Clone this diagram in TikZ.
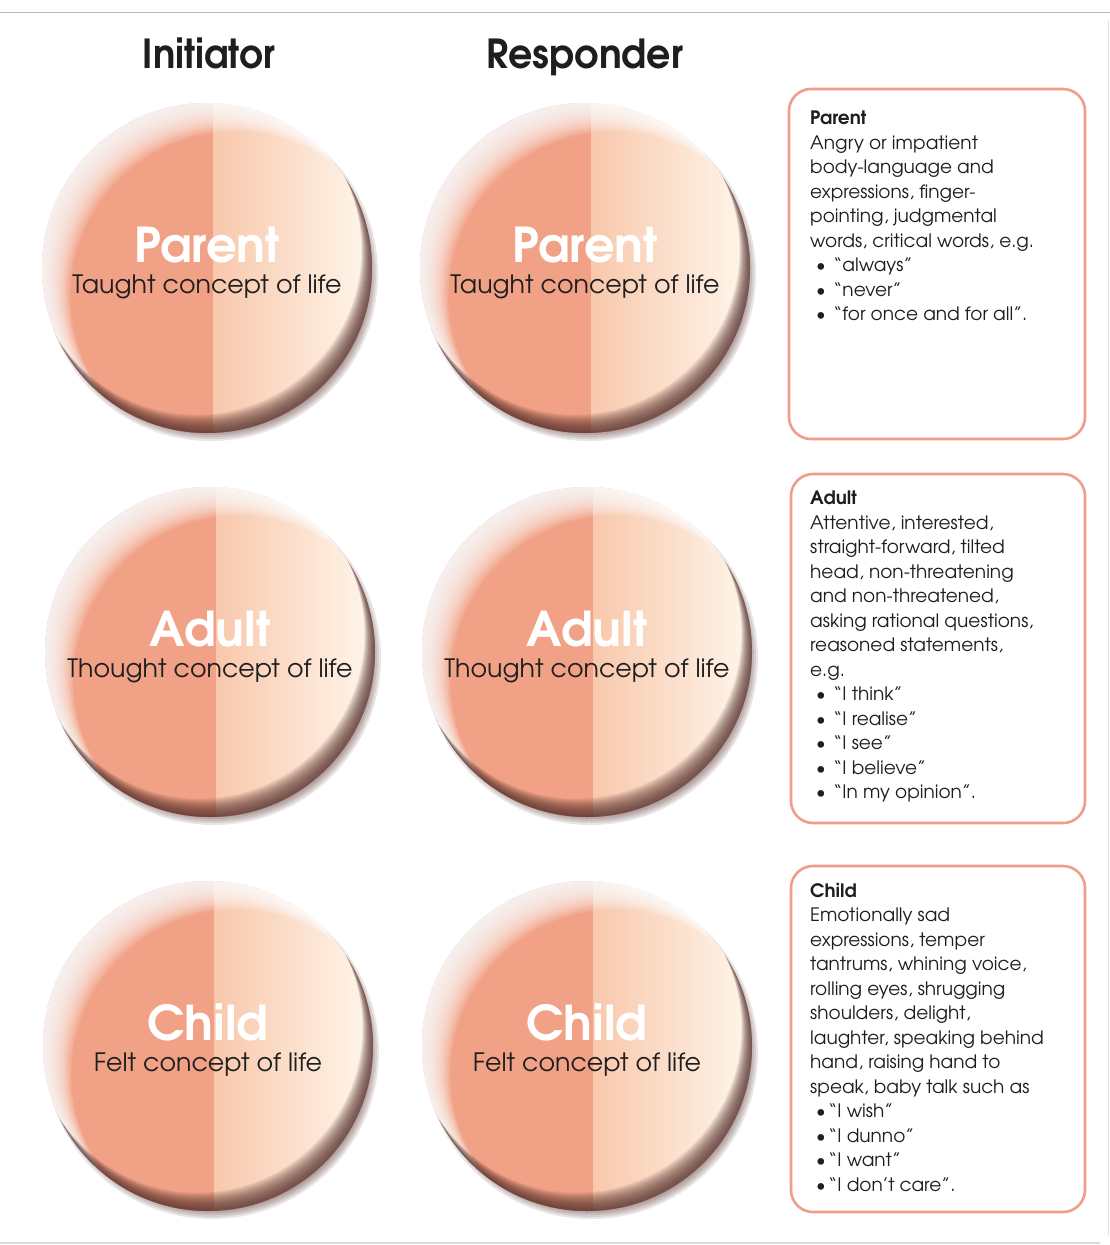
\documentclass[tikz,border=0pt]{standalone}
\usepackage{fontspec}
\setmainfont{TeX Gyre Adventor}
\definecolor{salmon}{RGB}{241,162,134}
\definecolor{salmonmid}{RGB}{248,200,172}
\definecolor{cream}{RGB}{255,248,238}
\definecolor{shadowbrown}{RGB}{84,46,42}
\definecolor{boxline}{RGB}{238,158,138}
\definecolor{inktext}{RGB}{30,30,30}
\tikzset{
  disctitle/.style={anchor=base, inner sep=0pt, text=white, font=\bfseries\fontsize{48}{48}\selectfont},
  discsub/.style={anchor=base, inner sep=0pt, text=inktext, font=\fontsize{25.3}{25.3}\selectfont},
  header/.style={anchor=base, inner sep=0pt, text=inktext, font=\bfseries\fontsize{40}{40}\selectfont},
  descbox/.style={draw=boxline, line width=2.6pt, rounded corners=22pt, fill=white},
  boxtext/.style={anchor=north west, inner sep=0pt, align=left, text=inktext, font=\fontsize{18.5}{24.5}\selectfont},
  glowcres/.style={fill=white, opacity=0.1, even odd rule},
  darkcres/.style={fill=shadowbrown, opacity=0.1, even odd rule},
  shadowring/.style={fill=shadowbrown, opacity=0.12},
}
\newcommand\tadisc[5]{%
  \foreach \k in {0,...,4} {\fill[shadowring] (#2+4,#3+6) circle ({167-2*\k});}
  \begin{scope}
    \clip (#2,#3) circle (165);
    \fill[salmon] (#2-170,#3-170) rectangle (#2+6,#3+170);
    \shade[left color=salmonmid, right color=cream] (#2+6,#3-170) rectangle (#2+170,#3+170);
    \foreach \d in {2,4,...,40} {\fill[glowcres] (#2,#3) circle (166) ({#2+0.71*\d},{#3+0.71*\d}) circle (165);}
    \foreach \d in {1.5,3,...,21} {\fill[darkcres] (#2,#3) circle (166) ({#2-0.5*\d},{#3-0.87*\d}) circle (165);}
  \end{scope}
  \node[disctitle] (#1t) at (#2,#3-6) {#4};
  \node[discsub] (#1s) at (#2,#3+25) {#5};
}
\newcommand\bul{\makebox[23pt][l]{\hspace{6pt}\textbullet}}
\newcommand\bulc{\makebox[18pt][l]{\hspace{6pt}\textbullet}}
\begin{document}
\begin{tikzpicture}[x=1pt,y=-1pt]
\useasboundingbox (0,0) rectangle (1110,1245);
\fill[white] (0,0) rectangle (1110,1245);
% page edges
\draw[gray!55, line width=1pt] (0,12) -- (1110,12);
\draw[gray!25, line width=1pt] (1108,20) -- (1108,1235);
\draw[gray!30, line width=1.5pt] (0,1243) -- (1100,1243);

% headers
\node[header] (hinit) at (209,68) {\scalebox{0.93}[1]{Initiator}};
\node[header] (hresp) at (585,68) {\scalebox{0.95}[1]{Responder}};

% discs
\tadisc{ip}{207}{268}{Parent}{Taught concept of life}
\tadisc{rp}{585}{268}{Parent}{Taught concept of life}
\tadisc{ia}{210}{652}{Adult}{Thought concept of life}
\tadisc{ra}{587}{652}{Adult}{Thought concept of life}
\tadisc{ic}{208}{1046}{Child}{Felt concept of life}
\tadisc{rc}{587}{1046}{Child}{Felt concept of life}

% description boxes
\node[descbox, minimum width=296, minimum height=350] (pbox) at (937,264) {};
\node[descbox, minimum width=294, minimum height=349] (abox) at (938,648.5) {};
\node[descbox, minimum width=294, minimum height=346] (cbox) at (938,1039) {};

\node[boxtext] (ptext) at (810,111) {\rule{0pt}{13pt}\textbf{Parent}\\
Angry or impatient\\
body-language and\\
expressions, finger-\\
pointing, judgmental\\
words, critical words, e.g.\\
\bul “always”\\
\bul “never”\\
\bul “for once and for all”.};

\node[boxtext] (atext) at (810,491) {\rule{0pt}{13pt}\textbf{Adult}\\
Attentive, interested,\\
straight-forward, tilted\\
head, non-threatening\\
and non-threatened,\\
asking rational questions,\\
reasoned statements,\\
e.g.\\
\bul “I think”\\
\bul “I realise”\\
\bul “I see”\\
\bul “I believe”\\
\bul “In my opinion”.};

\node[boxtext] (ctext) at (810,883) {\rule{0pt}{13pt}\textbf{Child}\\
Emotionally sad\\
expressions, temper\\
tantrums, whining voice,\\
rolling eyes, shrugging\\
shoulders, delight,\\
laughter, speaking behind\\
hand, raising hand to\\
speak, baby talk such as\\
\bulc “I wish”\\
\bulc “I dunno”\\
\bulc “I want”\\
\bulc “I don’t care”.};
\end{tikzpicture}
\end{document}
